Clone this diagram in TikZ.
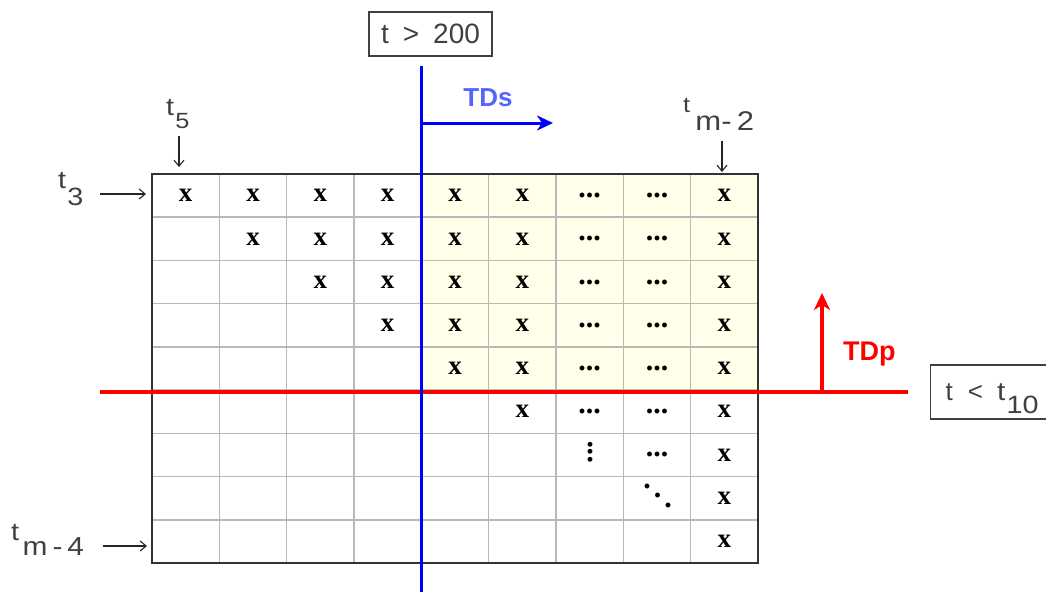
\documentclass[tikz,border=0pt]{standalone}
\usepackage{fontspec}
\setmainfont{Liberation Sans}
\newfontfamily\serifx{Liberation Serif}
\usetikzlibrary{arrows.meta}
\definecolor{txtgray}{RGB}{64,64,64}
\definecolor{gridgray}{RGB}{185,185,185}
\definecolor{cellyellow}{RGB}{255,255,234}
\definecolor{tdsblue}{RGB}{85,102,255}
\definecolor{pureblue}{RGB}{0,0,255}
\definecolor{purered}{RGB}{255,0,0}
\newcommand\tlab[5][1pt]{\scalebox{1.15}[1]{{\fontsize{#2}{#2}\selectfont t}\kern#1\raisebox{-#5pt}{\fontsize{#4}{#4}\selectfont #3}}}
\newcommand\myvdots{\rotatebox{90}{...}}
\newcommand\myddots{\raisebox{19pt}{.}\kern3pt\raisebox{9.5pt}{.}\kern3pt.}
\begin{document}
\begin{tikzpicture}[x=1pt,y=-1pt,
  lbl/.style={inner sep=0pt, text=txtgray, anchor=base west},
  xcell/.style={inner sep=0pt, font=\serifx\bfseries\fontsize{27}{27}\selectfont},
  dcell/.style={inner sep=0pt, font=\serifx\bfseries\fontsize{30}{30}\selectfont},
  gridline/.style={draw=gridgray, line width=1.6pt},
  border/.style={draw=black!80, line width=1.6pt},
  larrow/.style={draw=black!85, line width=1.1pt, -{Straight Barb[length=6pt,width=10pt,line width=1.1pt]}},
  boxed/.style={draw=txtgray, line width=1.4pt, inner sep=0pt, text=txtgray}]
\useasboundingbox (0,0) rectangle (1046,592);
\clip (0,0) rectangle (1046,592);
\def\cw{67.333}
\def\rh{43.222}
% shaded block
\fill[cellyellow] (421.3,174) rectangle (758,392.3);
% grid
\foreach \i in {1,...,8}{
  \draw[gridline] ({152+\i*\cw},174) -- ({152+\i*\cw},563);
  \draw[gridline] (152,{174+\i*\rh}) -- (758,{174+\i*\rh});
}
\draw[border] (152,174) rectangle (758,563);
% cell contents
\foreach \r in {1,...,6}{
  \foreach \c in {\r,...,6}{
    \node[xcell] (x-\c-\r) at ({152+(\c-0.5)*\cw},{174+(\r-0.5)*\rh}) {x};
  }
}
\foreach \r in {1,...,9}{
  \node[xcell] (x-9-\r) at ({152+8.5*\cw},{174+(\r-0.5)*\rh}) {x};
}
\foreach \r in {1,...,6}{
  \node[dcell] (d-7-\r) at ({152+6.5*\cw},{174+(\r-0.5)*\rh}) {...};
}
\foreach \r in {1,...,7}{
  \node[dcell] (d-8-\r) at ({152+7.5*\cw},{174+(\r-0.5)*\rh}) {...};
}
\node[dcell] (vd) at (590.3,452) {\myvdots};
\node[dcell] (dd) at (657.6,495.5) {\myddots};
% red threshold line and arrow
\coordinate (redL) at (100,392.3);
\coordinate (redR) at (908,392.3);
\coordinate (redA) at (822,392.3);
\coordinate (redT) at (822,293);
\draw[purered, line width=4pt] (redL) -- (redR);
\draw[purered, line width=4pt, -{Stealth[length=17pt,width=16pt,inset=5pt]}] (redA) -- (redT);
% blue threshold line and arrow
\coordinate (blueT) at (421.3,66);
\coordinate (blueB) at (421.3,592);
\coordinate (blueA) at (421.3,123);
\coordinate (blueE) at (553,123);
\draw[pureblue, line width=3.5pt] (blueT) -- (blueB);
\draw[pureblue, line width=3pt, -{Stealth[length=16pt,width=15pt,inset=5pt]}] (blueA) -- (blueE);
% labels
\node[anchor=base, inner sep=0pt, text=tdsblue, font=\bfseries\fontsize{26}{26}\selectfont] (TDs) at (488,106) {TDs};
\node[anchor=base west, inner sep=0pt, text=purered, font=\bfseries\fontsize{27}{27}\selectfont] (TDp) at (843,360) {TDp};
\node[boxed, minimum width=123pt, minimum height=44pt, font=\fontsize{28}{28}\selectfont] (b200) at (430.5,34) {t\hspace{0.5em}>\hspace{0.5em}200};
\node[boxed, anchor=west, minimum height=54pt, inner xsep=15pt, text height=28pt, text depth=12pt, font=\fontsize{26}{26}\selectfont] (b10) at (930,392) {t\hspace{15pt}<\hspace{14pt}\tlab{26}{10}{25}{13}\hspace*{20pt}};
\node[lbl] (t5) at (166,115) {\tlab{25}{5}{22}{13}};
\node[lbl] (t3) at (58,188) {\tlab{25}{3}{25}{17}};
\node[lbl] (tm2) at (683,112) {\tlab[4.5pt]{22}{m-\,2}{27}{18}};
\node[lbl] (tm4) at (11,540) {\tlab[3pt]{25}{m\,-\,4}{26}{15}};
% label arrows
\coordinate (a5s) at (179,136);  \coordinate (a5e) at (179,167);
\coordinate (a3s) at (100,194);  \coordinate (a3e) at (146,194);
\coordinate (am2s) at (722,141); \coordinate (am2e) at (722,172);
\coordinate (am4s) at (103,546); \coordinate (am4e) at (147,546);
\draw[larrow] (a5s) -- (a5e);
\draw[larrow] (a3s) -- (a3e);
\draw[larrow] (am2s) -- (am2e);
\draw[larrow] (am4s) -- (am4e);
\end{tikzpicture}
\end{document}
